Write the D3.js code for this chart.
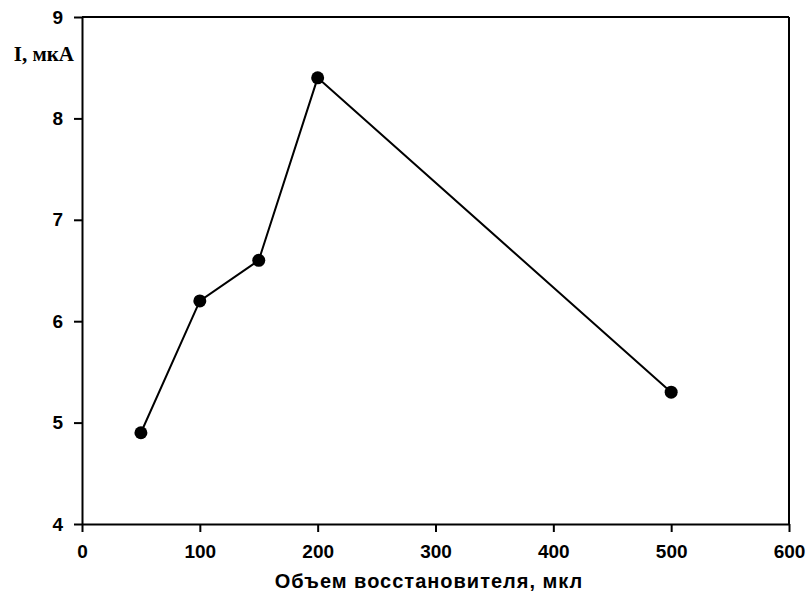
<!DOCTYPE html>
<html><head><meta charset="utf-8">
<script src="https://cdn.jsdelivr.net/npm/d3@7"></script>
<style>body{margin:0;background:#fff}</style>
</head><body>
<svg id="c" width="808" height="610"></svg>
<script>
const volumes = [50, 100, 150, 200, 500];
const currents = [4.9, 6.2, 6.6, 8.4, 5.3];
const xTicks = [0, 100, 200, 300, 400, 500, 600];
const yTicks = [4, 5, 6, 7, 8, 9];
const xTitle = "Объем восстановителя, мкл";
const yTitle = "I, мкА";

const svg = d3.select("#c");
const L = 82, R = 789, T = 17, B = 524;
const x = d3.scaleLinear().domain([0, 600]).range([L, R]);
const y = d3.scaleLinear().domain([4, 9]).range([B, T]);

const xAxis = svg.append("g").attr("transform", `translate(0,${B})`)
  .call(d3.axisBottom(x).tickValues(xTicks).tickFormat(d3.format("d")).tickSize(8).tickPadding(13).tickSizeOuter(0));
const yAxis = svg.append("g").attr("transform", `translate(${L},0)`)
  .call(d3.axisLeft(y).tickValues(yTicks).tickFormat(d3.format("d")).tickSize(8).tickPadding(11).tickSizeOuter(0));
[xAxis, yAxis].forEach(g => {
  g.select(".domain").attr("stroke", "#000").attr("stroke-width", 2);
  g.selectAll(".tick line").attr("stroke", "#000").attr("stroke-width", 2);
  g.selectAll(".tick text").attr("fill", "#000")
    .style("font-family", "Liberation Sans, Arial, sans-serif")
    .style("font-weight", "bold").style("font-size", "19px");
});
// top and right frame
svg.append("line").attr("x1", x(0)).attr("x2", x(600)).attr("y1", y(9)).attr("y2", y(9))
  .attr("stroke", "#000").attr("stroke-width", 2);
svg.append("line").attr("x1", x(600)).attr("x2", x(600)).attr("y1", y(9)).attr("y2", y(4))
  .attr("stroke", "#000").attr("stroke-width", 2);

const data = volumes.map((v, i) => ({v, c: currents[i]}));
svg.append("path").datum(data)
  .attr("fill", "none").attr("stroke", "#000").attr("stroke-width", 2)
  .attr("d", d3.line().x(d => x(d.v)).y(d => y(d.c)));
svg.selectAll("circle.pt").data(data).enter().append("circle")
  .attr("class", "pt").attr("cx", d => x(d.v)).attr("cy", d => y(d.c)).attr("r", 6.5)
  .attr("fill", "#000");

svg.append("text").attr("x", 429).attr("y", 588).attr("text-anchor", "middle")
  .style("font-family", "Liberation Sans, Arial, sans-serif").style("font-size", "20px")
  .style("font-weight", "bold").style("letter-spacing", "1px")
  .attr("fill", "#000").text(xTitle);
svg.append("text").attr("x", 74).attr("y", 61).attr("text-anchor", "end")
  .style("font-family", "Liberation Serif, Times New Roman, serif").style("font-size", "21px")
  .style("font-weight", "bold").attr("fill", "#000").text(yTitle);
</script>
</body></html>
